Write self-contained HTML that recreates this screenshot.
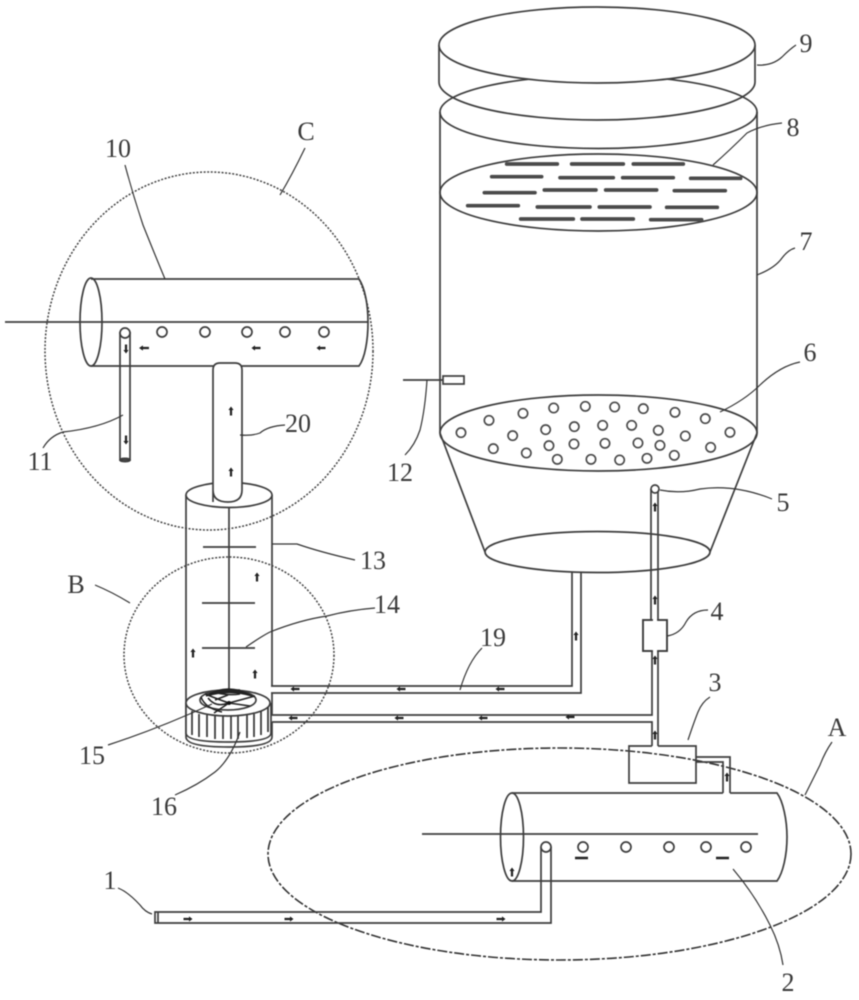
<!DOCTYPE html>
<html>
<head>
<meta charset="utf-8">
<style>
html,body{margin:0;padding:0;background:#fff;width:859px;height:1000px;overflow:hidden}
svg{display:block;filter:blur(.4px)}
text{font-family:"Liberation Serif",serif;font-size:26px;fill:#3a3a3a;text-anchor:middle}
.l{fill:none;stroke:#3d3d3d;stroke-width:1.7}
.w{fill:#fff;stroke:#3d3d3d;stroke-width:1.7}
.t{fill:none;stroke:#333;stroke-width:1.2}
</style>
</head>
<body>
<svg width="859" height="1000" viewBox="0 0 859 1000" xmlns="http://www.w3.org/2000/svg">
<defs>
<path id="a" d="M0,-4.5 L2.6,-1 L1.1,-1 L1.1,4.5 L-1.1,4.5 L-1.1,-1 L-2.6,-1 Z" fill="#222"/>
</defs>

<!-- dashed circles -->
<ellipse cx="209" cy="351" rx="164" ry="179" fill="none" stroke="#444" stroke-width="1.5" stroke-dasharray="2 1.6"/>
<ellipse cx="229" cy="655" rx="105" ry="98" fill="none" stroke="#444" stroke-width="1.5" stroke-dasharray="2 1.6"/>
<ellipse cx="559.5" cy="854" rx="291.5" ry="106" fill="none" stroke="#333" stroke-width="1.6" stroke-dasharray="10 2 3 2"/>

<!-- main tank -->
<path class="l" d="M440,112 V433 M757,112 V433"/>
<ellipse class="l" cx="598.5" cy="112" rx="158.5" ry="36.5"/>
<path class="l" d="M439,45 V82 A158,38 0 0 0 755,82 V45"/>
<ellipse class="w" cx="597" cy="45" rx="158" ry="38"/>

<!-- plate 8 -->
<ellipse class="l" cx="598.5" cy="192.5" rx="158.5" ry="38.5"/>
<g transform="translate(430,140) scale(.3333)" fill="none" stroke="#4a4a4a" stroke-width="11" stroke-linecap="round">
<path d="M230,72H382M425,72H580M610,72H760M185,110H335M390,113H550M578,113H730M782,115H932M163,158H315M343,150H498M527,150H680M733,152H886M113,197H265M322,201H480M508,201H660M710,202H862M272,237H430M456,237H610M662,239H815"/>
</g>

<!-- plate 6 and cone -->
<ellipse class="l" cx="598.5" cy="433" rx="158.5" ry="38"/>
<g transform="translate(430,385) scale(.3333)" fill="none" stroke="#4a4a4a" stroke-width="5">
<circle cx="93" cy="143" r="14"/><circle cx="177" cy="106" r="14"/><circle cx="279" cy="85" r="14"/><circle cx="371" cy="69" r="14"/><circle cx="466" cy="64" r="14"/><circle cx="554" cy="66" r="14"/><circle cx="640" cy="71" r="14"/><circle cx="735" cy="82" r="14"/><circle cx="826" cy="101" r="14"/><circle cx="900" cy="142" r="14"/>
<circle cx="248" cy="152" r="14"/><circle cx="347" cy="134" r="14"/><circle cx="433" cy="125" r="14"/><circle cx="518" cy="121" r="14"/><circle cx="605" cy="121" r="14"/><circle cx="685" cy="136" r="14"/><circle cx="766" cy="153" r="14"/>
<circle cx="190" cy="191" r="14"/><circle cx="289" cy="204" r="14"/><circle cx="357" cy="182" r="14"/><circle cx="432" cy="177" r="14"/><circle cx="525" cy="175" r="14"/><circle cx="624" cy="174" r="14"/><circle cx="690" cy="181" r="14"/><circle cx="842" cy="187" r="14"/>
<circle cx="382" cy="223" r="14"/><circle cx="483" cy="223" r="14"/><circle cx="569" cy="225" r="14"/><circle cx="651" cy="220" r="14"/><circle cx="733" cy="211" r="14"/>
</g>
<path class="l" d="M440,433 L485,552 M757,433 L710,552"/>
<ellipse class="l" cx="597.5" cy="552" rx="112.5" ry="20.5"/>

<!-- 12 -->
<path class="l" d="M403,380 H443"/>
<rect class="l" x="443" y="376" width="21" height="8"/>

<!-- pipes on right -->
<path class="l" d="M572,572 V686 H271 M581,572 V693 H271"/>
<path class="l" d="M651,489 V620 M658,489 V620 M652,651 V715 H270 M658,651 V746 M652,746 V722 H272"/>
<circle class="w" cx="655" cy="489" r="4"/>
<rect class="w" x="643" y="620" width="24" height="31"/>
<path d="M653,618 h4 v35 h-4z" fill="#fff"/>
<path class="l" d="M652,620 H643 V651 H652 M658,620 H667 V651 H658"/>

<!-- box 3 -->
<path class="l" d="M652,746 H629 V783 H696 V746 H658"/>
<path class="l" d="M696,757 H730 V793 M696,762 H723 V793"/>

<!-- tank 2 -->
<path class="l" d="M512,793 H723 M730,793 H777 C783,801 787,820 787,837 C787,855 783,873 777,881 H512"/>
<ellipse class="l" cx="512" cy="837" rx="11.5" ry="44"/>
<path class="l" d="M422,834 H758"/>
<g class="l">
<circle cx="583" cy="847" r="5"/><circle cx="626" cy="847" r="5"/><circle cx="669" cy="847" r="5"/><circle cx="706" cy="847" r="5"/><circle cx="746" cy="847" r="5"/>
</g>
<path d="M575,858 h13 M716,858 h13" stroke="#222" stroke-width="2.4" fill="none"/>

<!-- pipe 1 -->
<path class="l" d="M541,847 V912 H155 V923 H551 V847 M158,912 V923"/>
<circle class="w" cx="546" cy="847" r="5"/>

<!-- cylinder 13 -->
<path class="l" d="M186,495 V737 Q186,747 229,747 Q272,747 272,737 V722 M272,715 V693 M272,686 V495"/>
<ellipse class="w" cx="229" cy="495" rx="43" ry="12.5"/>
<path class="l" d="M229,507 V700 M203,547 H256 M202,603 H255 M202,648 H255"/>

<!-- pump -->
<path class="w" d="M186,703 V733 Q186,742 229,742 Q271,742 271,733 V703"/>
<ellipse class="w" cx="228" cy="703" rx="42" ry="13"/>
<g stroke="#333" stroke-width="1.7" fill="none">
<path d="M192,711V735M199,714V737M207,715V737M215,716V739M223,716V739M231,716V739M238,716V739M247,715V738M254,714V737M261,711V735M268,707V732"/>
</g>
<ellipse class="l" cx="228" cy="700" rx="28" ry="10"/>
<path d="M206,696 Q228,682 252,696 Q230,689 206,696 Z" fill="#222" stroke="#222" stroke-width="1.4"/>
<path d="M201,697 Q205,708 222,712 M205,694 Q220,700 229,703 L214,713 M229,703 L255,696 M229,703 L250,706 M213,692 Q228,696 240,694 M222,690 H240 M215,700 L228,695 M208,698 Q216,708 228,703" fill="none" stroke="#222" stroke-width="1.5"/>
<circle cx="229" cy="703" r="2" fill="#111"/>

<!-- tube 10 -->
<path class="l" d="M91,279 H359 C365,288 368,305 368,322 C368,340 365,358 359,366 H91"/>
<ellipse class="l" cx="91" cy="322" rx="11" ry="44"/>
<path class="l" d="M5,322 H368"/>
<g class="l">
<circle cx="162" cy="332" r="5"/><circle cx="205" cy="332" r="5"/><circle cx="247" cy="332" r="5"/><circle cx="285" cy="332" r="5"/><circle cx="324" cy="332" r="5"/>
</g>
<path class="l" d="M120,332 V460 H130 V332"/>
<circle class="w" cx="125" cy="333" r="5"/>
<ellipse class="l" cx="125" cy="460" rx="5" ry="1.6"/>
<path class="w" d="M213,502 V370 Q213,363 220,363 H235 Q242,363 242,370 V490 Q242,502 228,502 Q213,502 213,490 Z"/>

<!-- arrows -->
<use href="#a" transform="translate(126,349) rotate(180)"/>
<use href="#a" transform="translate(126,440) rotate(180)"/>
<use href="#a" transform="translate(144,348) rotate(-90) scale(1,1.1)"/>
<use href="#a" transform="translate(256,348) rotate(-90)"/>
<use href="#a" transform="translate(321,348) rotate(-90)"/>
<use href="#a" transform="translate(231,411)"/>
<use href="#a" transform="translate(231,472)"/>
<use href="#a" transform="translate(257,577)"/>
<use href="#a" transform="translate(193,653)"/>
<use href="#a" transform="translate(255,674)"/>
<use href="#a" transform="translate(295,689) rotate(-90)"/>
<use href="#a" transform="translate(401,689) rotate(-90)"/>
<use href="#a" transform="translate(500,689) rotate(-90)"/>
<use href="#a" transform="translate(293,718) rotate(-90)"/>
<use href="#a" transform="translate(399,718) rotate(-90)"/>
<use href="#a" transform="translate(483,718) rotate(-90)"/>
<use href="#a" transform="translate(570,717) rotate(-90)"/>
<use href="#a" transform="translate(576,636)"/>
<use href="#a" transform="translate(655,507)"/>
<use href="#a" transform="translate(655,600)"/>
<use href="#a" transform="translate(655,660)"/>
<use href="#a" transform="translate(655,735)"/>
<use href="#a" transform="translate(727,777)"/>
<use href="#a" transform="translate(512,872)"/>
<use href="#a" transform="translate(188,919) rotate(90)"/>
<use href="#a" transform="translate(289,919) rotate(90)"/>
<use href="#a" transform="translate(501,919) rotate(90)"/>

<!-- leaders -->
<g class="t">
<path d="M757,65 Q772,66 782,57 Q790,49 796,45"/>
<path d="M713,165 Q730,150 747,133 Q762,125 782,123"/>
<path d="M757,275 Q775,268 782,258 Q788,250 795,248"/>
<path d="M720,412 Q745,400 760,385 Q780,366 800,362"/>
<path d="M660,490 Q680,494 700,489 Q735,484 772,499"/>
<path d="M667,636 Q680,634 686,622 Q693,610 708,610"/>
<path d="M688,740 Q694,722 698,712 Q702,702 710,697"/>
<path d="M805,795 Q815,775 820,765 Q825,752 832,742"/>
<path d="M733,869 Q755,895 770,925 Q780,945 783,965"/>
<path d="M118,888 Q128,892 140,905 Q145,912 152,914"/>
<path d="M460,690 Q468,662 482,648"/>
<path d="M427,380 Q425,410 420,430 Q415,445 405,455"/>
<path d="M272,544 H297 Q320,552 355,560"/>
<path d="M246,647 Q262,636 270,632 Q300,620 327,616 Q350,610 375,608"/>
<path d="M108,745 Q160,728 212,704"/>
<path d="M240,732 Q230,760 215,772 Q198,785 175,795"/>
<path d="M95,585 Q112,592 130,603"/>
<path d="M165,279 Q155,255 143,225 Q133,195 125,165"/>
<path d="M280,195 Q292,175 305,148"/>
<path d="M123,415 Q100,428 63,432 Q50,436 43,448"/>
<path d="M240,435 Q252,436 260,433 Q268,426 285,425"/>
</g>

<!-- labels -->
<text x="806" y="52">9</text>
<text x="793" y="136">8</text>
<text x="806" y="250">7</text>
<text x="810" y="361">6</text>
<text x="783" y="511">5</text>
<text x="717" y="620">4</text>
<text x="715" y="691">3</text>
<text x="837" y="736">A</text>
<text x="788" y="991">2</text>
<text x="110" y="889">1</text>
<text x="493" y="646">19</text>
<text x="400" y="481">12</text>
<text x="373" y="569">13</text>
<text x="387" y="613">14</text>
<text x="76" y="593">B</text>
<text x="92" y="764">15</text>
<text x="164" y="815">16</text>
<text x="118" y="157">10</text>
<text x="306" y="140">C</text>
<text x="40" y="470">11</text>
<text x="298" y="432">20</text>
</svg>
</body>
</html>
